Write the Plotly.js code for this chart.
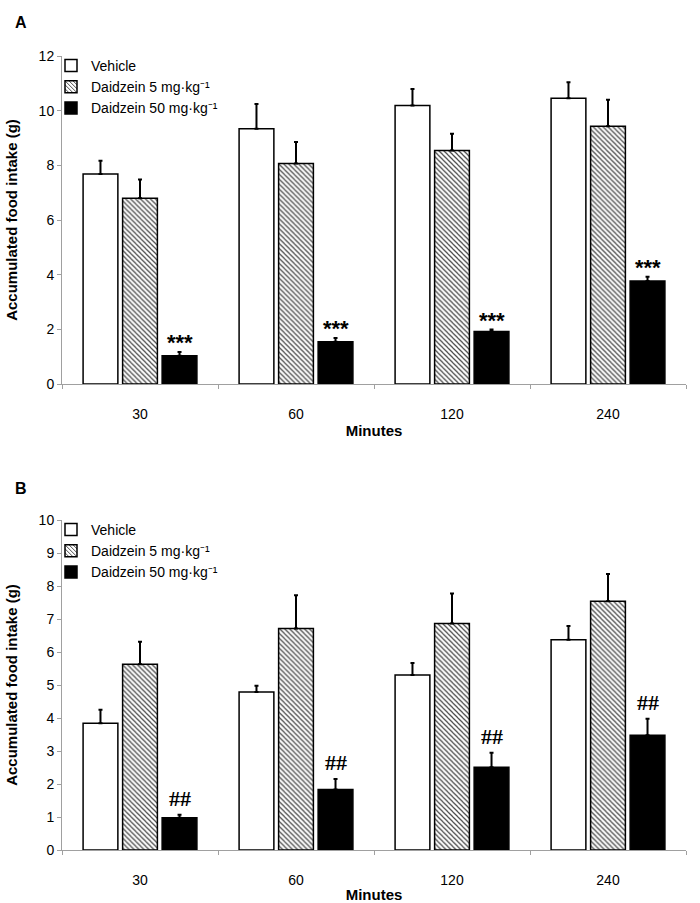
<!DOCTYPE html>
<html>
<head>
<meta charset="utf-8">
<script src="https://cdn.plot.ly/plotly-3.0.1.min.js"></script>
<style>html,body{margin:0;padding:0;background:#fff;}#chart{width:700px;height:903px;}</style>
</head>
<body>
<div id="chart"></div>
<script>
// ---- Data ----
const categories = ['30', '60', '120', '240'];
const seriesNames = ['Vehicle', 'Daidzein 5 mg·kg⁻¹', 'Daidzein 50 mg·kg⁻¹'];

// Panel A
const vehicleA = [7.68, 9.34, 10.19, 10.45];
const vehicleA_err = [0.49, 0.90, 0.60, 0.59];
const daid5A = [6.80, 8.07, 8.54, 9.43];
const daid5A_err = [0.68, 0.78, 0.62, 0.97];
const daid50A = [1.03, 1.55, 1.92, 3.77];
const daid50A_err = [0.14, 0.13, 0.07, 0.15];
const sigA = ['***', '***', '***', '***'];

// Panel B
const vehicleB = [3.84, 4.79, 5.30, 6.37];
const vehicleB_err = [0.41, 0.19, 0.37, 0.42];
const daid5B = [5.63, 6.71, 6.86, 7.54];
const daid5B_err = [0.68, 1.01, 0.91, 0.82];
const daid50B = [0.98, 1.83, 2.51, 3.48];
const daid50B_err = [0.09, 0.32, 0.44, 0.50];
const sigB = ['##', '##', '##', '##'];

const yTicksA = [0, 2, 4, 6, 8, 10, 12];
const yTicksB = [0, 1, 2, 3, 4, 5, 6, 7, 8, 9, 10];

// ---- Styles ----
const FONT = 'Liberation Sans, Arial, Helvetica, sans-serif';
const BARGAP = 0.24;
const styles = [
  {color: '#ffffff', line: {color: '#000', width: 1.5}},
  {color: '#ffffff', line: {color: '#000', width: 1.5},
   pattern: {shape: '\\', fgcolor: '#4a4a4a', bgcolor: '#ffffff', size: 3.5, solidity: 0.35}},
  {color: '#000000', line: {color: '#000', width: 1.5}}
];

function mk(vals, errs, idx, xa, ya, legendName) {
  return {
    type: 'bar',
    x: categories,
    y: vals,
    name: seriesNames[idx],
    xaxis: xa, yaxis: ya,
    legend: legendName,
    marker: styles[idx],
    error_y: {type: 'data', symmetric: false, array: errs, arrayminus: errs.map(() => 0),
              color: '#000', thickness: 2, width: 2},
    hoverinfo: 'x+y'
  };
}

const data = [
  mk(vehicleA, vehicleA_err, 0, 'x', 'y', 'legend'),
  mk(daid5A, daid5A_err, 1, 'x', 'y', 'legend'),
  mk(daid50A, daid50A_err, 2, 'x', 'y', 'legend'),
  mk(vehicleB, vehicleB_err, 0, 'x2', 'y2', 'legend2'),
  mk(daid5B, daid5B_err, 1, 'x2', 'y2', 'legend2'),
  mk(daid50B, daid50B_err, 2, 'x2', 'y2', 'legend2')
];

const slot = (1 - BARGAP) / 3;
const annotations = [];
categories.forEach((c, i) => {
  annotations.push({
    xref: 'x', yref: 'y', x: i + slot, y: daid50A[i] + daid50A_err[i],
    text: sigA[i], showarrow: false, yanchor: 'bottom', yshift: -5,
    font: {family: FONT, size: 22, color: '#000', weight: 'bold'}
  });
  annotations.push({
    xref: 'x2', yref: 'y2', x: i + slot, y: daid50B[i] + daid50B_err[i],
    text: sigB[i], showarrow: false, yanchor: 'bottom', yshift: 2,
    font: {family: 'Liberation Serif, Times New Roman, serif', size: 22, color: '#000', weight: 'bold'}
  });
});
annotations.push({xref: 'paper', yref: 'paper', x: 13/700, y: 1 - 22/903, text: 'A',
  showarrow: false, xanchor: 'left', yanchor: 'middle', font: {family: FONT, size: 16, color: '#000', weight: 'bold'}});
annotations.push({xref: 'paper', yref: 'paper', x: 13/700, y: 1 - 488/903, text: 'B',
  showarrow: false, xanchor: 'left', yanchor: 'middle', font: {family: FONT, size: 16, color: '#000', weight: 'bold'}});

const xDom = [62/700, 686/700];
function xAxis(anchor) {
  return {
    domain: xDom, anchor: anchor, type: 'category',
    showline: true, linecolor: '#a0a0a0', linewidth: 1,
    ticks: 'outside', tickson: 'boundaries', ticklen: 4, tickcolor: '#a0a0a0',
    ticklabelstandoff: 17,
    tickfont: {family: FONT, size: 14, color: '#000'},
    title: {text: 'Minutes', font: {family: FONT, size: 15, color: '#000', weight: 'bold'}, standoff: 4},
    showgrid: false, zeroline: false, fixedrange: true
  };
}
function yAxis(dom, rng, ticks, anchor) {
  return {
    domain: dom, anchor: anchor, range: rng, tickvals: ticks,
    showline: true, linecolor: '#a0a0a0', linewidth: 1,
    ticks: 'outside', ticklen: 4, tickcolor: '#a0a0a0',
    tickfont: {family: FONT, size: 14, color: '#000'},
    title: {text: 'Accumulated food intake (g)', font: {family: FONT, size: 15, color: '#000', weight: 'bold'}, standoff: 17},
    showgrid: false, zeroline: false, fixedrange: true
  };
}

const layout = {
  width: 700, height: 903,
  margin: {l: 0, r: 0, t: 0, b: 0},
  paper_bgcolor: '#fff', plot_bgcolor: '#fff',
  barmode: 'group', bargap: BARGAP, bargroupgap: 0.12,
  font: {family: FONT, color: '#000'},
  xaxis: xAxis('y'),
  yaxis: yAxis([1 - 384/903, 1 - 56/903], [0, 12], yTicksA, 'x'),
  xaxis2: xAxis('y2'),
  yaxis2: yAxis([1 - 850/903, 1 - 520/903], [0, 10], yTicksB, 'x2'),
  legend: {x: 51/700, y: 1 - 50/903, xanchor: 'left', yanchor: 'top', bgcolor: 'rgba(0,0,0,0)',
           font: {family: FONT, size: 14, color: '#000'}, tracegroupgap: 0},
  legend2: {x: 51/700, y: 1 - 514/903, xanchor: 'left', yanchor: 'top', bgcolor: 'rgba(0,0,0,0)',
            font: {family: FONT, size: 14, color: '#000'}, tracegroupgap: 0},
  annotations: annotations,
  showlegend: true
};

Plotly.newPlot('chart', data, layout, {displayModeBar: false, staticPlot: true});
</script>
</body>
</html>
